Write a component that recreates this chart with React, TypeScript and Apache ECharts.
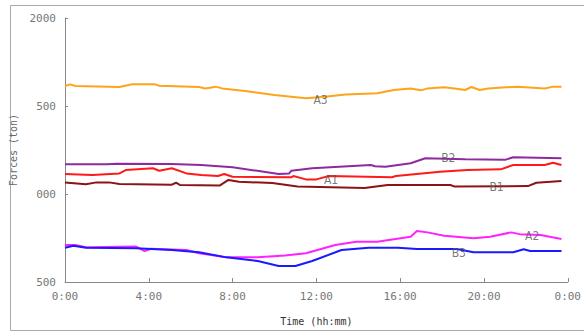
import React, { useEffect, useRef } from "react";
import * as echarts from "echarts";

const xTicks = [0, 4, 8, 12, 16, 20, 24];
const yTickLabels: Record<number, string> = { 500: "500", 1000: "000", 1500: "500", 2000: "2000" };

const A3 = [[0,1614],[0.24,1623],[0.5,1614],[2.6,1608],[3.2,1623],[4.3,1623],[4.5,1615],[6.4,1608],[6.7,1600],[7.2,1610],[7.5,1600],[8.6,1585],[10.0,1563],[11.5,1544],[12.4,1553],[13.4,1566],[14.9,1572],[15.7,1591],[16.5,1600],[17.0,1589],[17.3,1600],[18.1,1606],[18.6,1600],[19.1,1591],[19.4,1608],[19.8,1591],[20.2,1600],[21.6,1610],[22.9,1600],[23.3,1610],[23.7,1610]];
const B2 = [[0,1169],[2.0,1169],[2.5,1172],[5.1,1170],[6.5,1165],[8.0,1152],[10.2,1114],[10.7,1117],[10.8,1132],[11.8,1146],[14.6,1165],[14.8,1158],[15.3,1155],[16.5,1175],[17.2,1203],[19.1,1197],[21.0,1194],[21.4,1209],[23.7,1203]];
const A1 = [[0,1114],[1.3,1108],[2.6,1117],[2.9,1136],[4.2,1146],[4.5,1132],[5.1,1146],[5.8,1117],[6.5,1108],[7.3,1102],[7.6,1114],[8.0,1098],[10.8,1095],[10.9,1102],[11.5,1083],[12.0,1083],[12.6,1102],[15.6,1095],[15.8,1102],[17.9,1127],[19.2,1136],[20.8,1140],[21.4,1165],[22.9,1165],[23.3,1178],[23.7,1165]];
const B1 = [[0,1066],[1.0,1055],[1.5,1066],[2.1,1066],[2.6,1057],[5.1,1053],[5.3,1064],[5.5,1051],[7.4,1049],[7.8,1080],[8.3,1070],[9.9,1062],[11.1,1042],[14.3,1034],[15.4,1051],[18.4,1051],[18.6,1042],[22.1,1045],[22.5,1064],[23.7,1074]];
const A2 = [[0,710],[0.5,710],[1.0,697],[3.4,701],[3.8,676],[4.1,689],[5.8,682],[6.4,663],[7.7,640],[9.2,640],[10.5,650],[11.5,663],[12.9,710],[13.9,729],[14.9,729],[16.5,757],[16.8,790],[17.3,782],[18.1,763],[19.5,748],[20.3,757],[21.3,782],[21.7,772],[22.7,767],[23.7,744]];
const B3 = [[0,695],[0.4,706],[1.0,695],[3.4,692],[5.1,682],[6.4,669],[7.7,640],[9.2,619],[10.2,591],[11.0,591],[11.8,619],[13.2,682],[14.5,695],[15.9,695],[16.8,688],[18.7,688],[19.5,669],[21.4,669],[21.9,686],[22.2,676],[23.7,676]];

const seriesNames = ["A3", "B2", "A1", "B1", "A2", "B3"];
const seriesData = [A3, B2, A1, B1, A2, B3];
const seriesColors = ["#ffa31a", "#8e2a9e", "#ff1a1a", "#8b1414", "#ff22ff", "#1a1aff"];

const labelNames = ["A3", "B2", "A1", "B1", "A2", "B3"];
const labelX = [12.2, 18.3, 12.7, 20.6, 22.3, 18.8];
const labelY = [1534, 1205, 1080, 1040, 761, 665];

export default function App() {
  const ref = useRef<HTMLDivElement>(null);
  useEffect(() => {
    document.body.style.margin = "0";
    const chart = echarts.init(ref.current!, null, { renderer: "svg" });
    const axisText = { color: "#777", fontFamily: "'DejaVu Sans Mono', monospace", fontSize: 11 };
    chart.setOption({
      animation: false,
      backgroundColor: "#fff",
      graphic: [
        { type: "rect", shape: { x: 10.5, y: 5.5, width: 590, height: 325 }, style: { fill: "none", stroke: "#aaa", lineWidth: 1 }, silent: true },
      ],
      grid: { left: 65, top: 18, right: 13, bottom: 50 },
      xAxis: {
        type: "value", min: 0, max: 24, interval: 4,
        name: "Time (hh:mm)", nameLocation: "middle", nameGap: 34,
        nameTextStyle: { color: "#333", fontFamily: "'DejaVu Sans Mono', monospace", fontSize: 10 },
        axisLine: { lineStyle: { color: "#888" } },
        axisTick: { inside: true, length: 4, lineStyle: { color: "#888" } },
        splitLine: { show: false },
        axisLabel: { ...axisText, margin: 9, formatter: (v: number) => `${v % 24}:00` },
      },
      yAxis: {
        type: "value", min: 500, max: 2000, interval: 500,
        name: "Forces (ton)", nameLocation: "middle", nameGap: 42, nameRotate: 90,
        nameTextStyle: { color: "#666", fontFamily: "'DejaVu Sans Mono', monospace", fontSize: 10 },
        axisLine: { show: true, lineStyle: { color: "#888" } },
        axisTick: { show: true, inside: true, length: 3, lineStyle: { color: "#888" } },
        splitLine: { show: false },
        axisLabel: { ...axisText, margin: 9, formatter: (v: number) => yTickLabels[v] ?? String(v) },
      },
      series: [
        ...seriesData.map((d, i) => ({
          name: seriesNames[i], type: "line", data: d, showSymbol: false, symbol: "none",
          lineStyle: { color: seriesColors[i], width: 2 }, itemStyle: { color: seriesColors[i] },
        })),
        {
          type: "scatter", symbolSize: 0,
          data: labelNames.map((n, i) => ({ name: n, value: [labelX[i], labelY[i]] })),
          label: {
            show: true, position: "inside", formatter: (p: any) => p.name,
            color: "#555", fontSize: 12, fontFamily: "'Liberation Sans Narrow', 'DejaVu Sans Condensed', sans-serif",
          },
          z: 5,
        },
      ],
    });
    return () => chart.dispose();
  }, []);
  return <div ref={ref} style={{ width: 584, height: 332 }} />;
}
